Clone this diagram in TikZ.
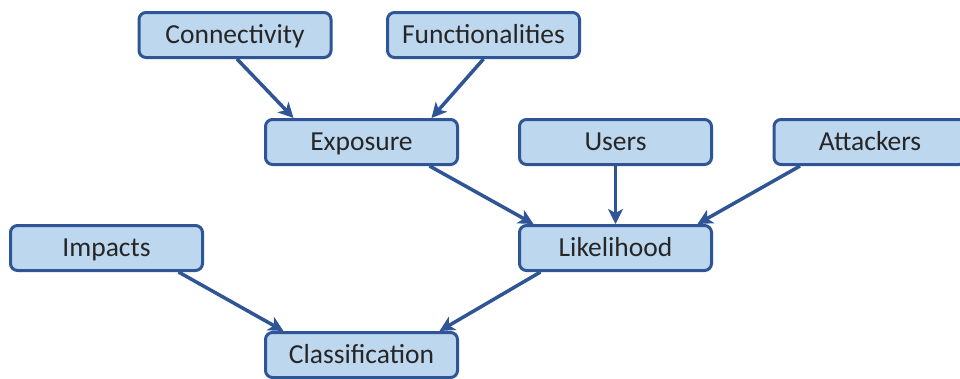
\documentclass[tikz,border=0pt]{standalone}
\usepackage{fontspec}
\setmainfont{Carlito}
\usetikzlibrary{arrows.meta}
\definecolor{boxfill}{HTML}{BDD7EE}
\definecolor{boxline}{HTML}{2F5597}
\definecolor{arrowline}{HTML}{2F5597}
\begin{document}
\begin{tikzpicture}[x=1pt,y=-1pt,
  factor/.style={draw=boxline, fill=boxfill, line width=3pt, rounded corners=7pt,
    minimum width=192pt, minimum height=45pt, inner sep=0pt,
    text height=20pt, text depth=4pt,
    text=black!85, font=\fontsize{27.5}{31}\selectfont},
  link/.style={draw=arrowline, line width=3.5pt,
    -{Stealth[length=15pt,width=15pt,inset=4pt]}}]
  \clip (0,0) rectangle (960,378);
  \fill[white] (0,0) rectangle (960,378);
  % factor boxes
  \node[factor] (conn) at (235,35)   {Connectivity};
  \node[factor] (func) at (483.5,35) {Functionalities};
  \node[factor] (expo) at (361.5,142) {Exposure};
  \node[factor] (user) at (615.5,142) {Users};
  \node[factor] (attk) at (870,142)  {Attackers};
  \node[factor] (impa) at (106.5,248) {Impacts};
  \node[factor] (like) at (615.5,248) {Likelihood};
  \node[factor] (clas) at (361.5,355) {Classification};
  % dependencies
  \draw[link] ([xshift=2pt]conn.south) -- ([xshift=-68pt]expo.north);
  \draw[link] (func.south) -- ([xshift=70pt]expo.north);
  \draw[link] ([xshift=68pt]expo.south) -- ([xshift=-82pt]like.north);
  \draw[link] (user.south) -- (like.north);
  \draw[link] ([xshift=-70pt]attk.south) -- ([xshift=82pt]like.north);
  \draw[link] ([xshift=72pt]impa.south) -- ([xshift=-78pt]clas.north);
  \draw[link] ([xshift=-75pt]like.south) -- ([xshift=78pt]clas.north);
\end{tikzpicture}
\end{document}
